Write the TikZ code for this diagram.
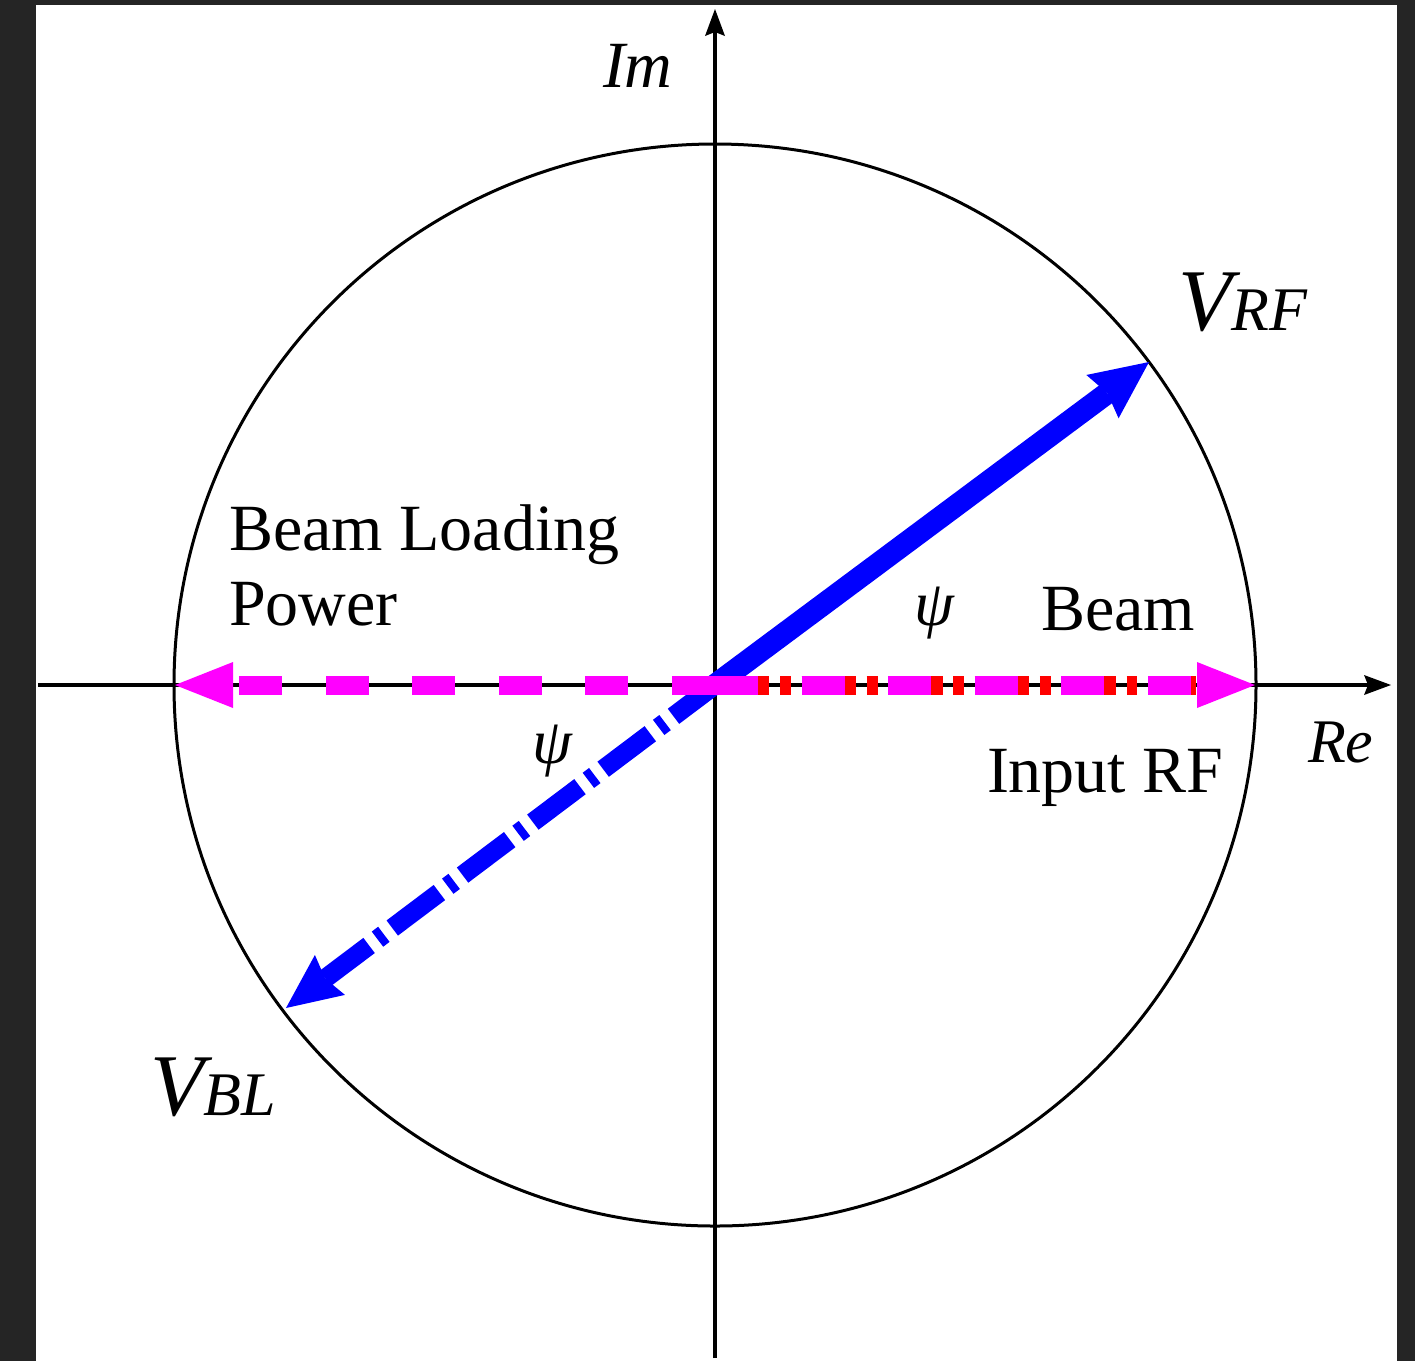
\documentclass[tikz,border=0pt]{standalone}
\usepackage{fontspec}
\setmainfont{Liberation Serif}
\usetikzlibrary{arrows.meta}
\definecolor{bgdark}{HTML}{252525}
\definecolor{mag}{RGB}{255,0,255}
\definecolor{pureblue}{RGB}{0,0,255}
\definecolor{purered}{RGB}{255,0,0}
\begin{document}
\begin{tikzpicture}[x=1pt,y=-1pt,
  lbl/.style={inner sep=0pt, outer sep=0pt, anchor=base west},
  axisline/.style={line width=3.5pt, -{Stealth[length=27pt,width=20pt,inset=4pt,line width=0pt]}},
  ring/.style={line width=3pt},
  magline/.style={mag, line width=19pt, dash pattern=on 43pt off 43.6pt, -{Triangle[length=58pt,width=46pt,line width=0pt]}},
  redline/.style={purered, line width=19pt, dash pattern=on 54.3pt off 10.8pt on 10.8pt off 10.7pt},
  bluesolid/.style={pureblue, line width=22pt, -{Stealth[length=58pt,width=54pt,inset=6pt,line width=0pt]}},
  bluedashdot/.style={pureblue, line width=19pt, dash pattern=on 59pt off 10.5pt on 8pt off 10.5pt, dash phase=7pt, -{Stealth[length=55pt,width=50pt,inset=6pt,line width=0pt]}},
  bigtxt/.style={font=\fontsize{66}{75}\selectfont}
]
\useasboundingbox (0,0) rectangle (1415,1361);
\fill[bgdark] (0,0) rectangle (1415,1361);
\fill[white] (36,5) rectangle (1397,1361);

\coordinate (O) at (715,685);
\coordinate (reS) at (38,685);
\coordinate (reE) at (1391,685);
\coordinate (imS) at (715,1358);
\coordinate (imE) at (715,9);
\coordinate (L) at (175,685);
\coordinate (R) at (1255,685);
\coordinate (Rred) at (1196,685);
\coordinate (T1) at (1149,362);
\coordinate (T2) at (286,1008);

% circle and axes
\draw[ring] (O) circle[radius=541];
\draw[axisline] (reS) -- (reE);
\draw[axisline] (imS) -- (imE);

% blue phasors
\draw[bluesolid] (O) -- (T1);
\draw[bluedashdot] (O) -- (T2);

% red / magenta
\draw[redline] (O) -- (Rred);
\draw[magline] (O) -- (R);
\draw[magline] (O) -- (L);

% labels
\node[lbl, bigtxt] (im) at (603,87) {\itshape Im};
\node[lbl, font=\fontsize{62}{62}\selectfont] (re) at (1308,762) {\itshape Re};
\node[lbl] (vrf) at (1178,330) {{\fontsize{88}{88}\selectfont\itshape V}{\fontsize{62}{62}\selectfont\itshape RF}};
\node[lbl] (vbl) at (150,1115) {{\fontsize{88}{88}\selectfont\itshape V}{\fontsize{62}{62}\selectfont\itshape BL}};
\node[lbl, bigtxt] (blp1) at (229,550) {Beam Loading};
\node[lbl, bigtxt] (blp2) at (229,625) {Power};
\node[lbl, bigtxt] (beam) at (1041,630) {Beam};
\node[lbl, bigtxt] (inrf) at (987,792) {Input RF};
\node[inner sep=0pt, font=\fontsize{64}{64}\selectfont] (psi1) at (934,613) {\itshape ψ};
\node[inner sep=0pt, font=\fontsize{64}{64}\selectfont] (psi2) at (552,751) {\itshape ψ};
\end{tikzpicture}
\end{document}
